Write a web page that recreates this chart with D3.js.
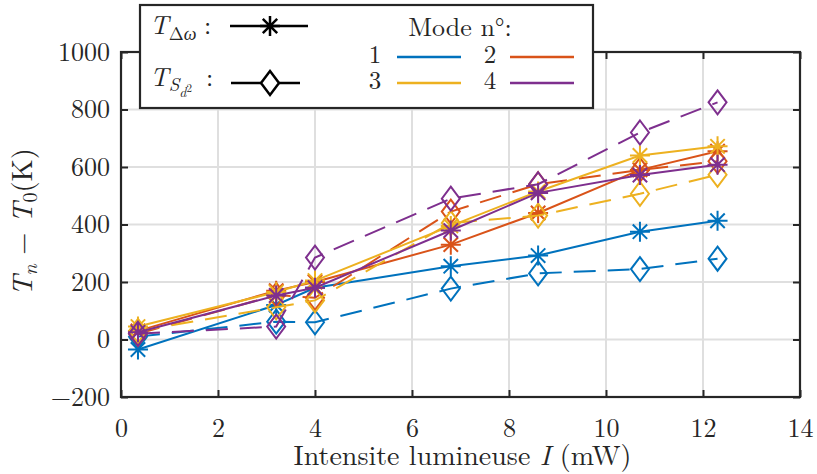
<!DOCTYPE html>
<html><head><meta charset="utf-8">
<script src="https://cdn.jsdelivr.net/npm/d3@7"></script>
<style>body{margin:0;background:#fff} svg{display:block}</style>
</head><body>
<script>
// ---- data ----
const intensity = [0.35, 3.2, 4.0, 6.8, 8.6, 10.7, 12.3];
const modes = ["1", "2", "3", "4"];
const modeColors = ["#0072BD", "#D95319", "#EDB120", "#7E2F8E"];
// T_Δω (stars, solid lines)
const starMode1 = [-35, 120, 180, 255, 292, 375, 413];
const starMode2 = [30, 170, 200, 330, 440, 590, 655];
const starMode3 = [45, 165, 205, 395, 515, 640, 672];
const starMode4 = [25, 153, 180, 379, 510, 572, 608];
// T_S (diamonds, dashed lines)
const diamMode1 = [10, 62, 60, 177, 230, 245, 281];
const diamMode2 = [20, 155, 145, 445, 540, 590, 620];
const diamMode3 = [30, 112, 136, 405, 431, 507, 573];
const diamMode4 = [20, 45, 285, 490, 540, 720, 825];
const xTicks = [0, 2, 4, 6, 8, 10, 12, 14];
const yTicks = [-200, 0, 200, 400, 600, 800, 1000];

const starSeries = [starMode1, starMode2, starMode3, starMode4];
const diamSeries = [diamMode1, diamMode2, diamMode3, diamMode4];

// ---- layout ----
const FONT = "'Latin Modern Roman'";
const W = 817, H = 474;
const L = 121, R = 800, T = 52, B = 397;
const svg = d3.select("body").append("svg").attr("width", W).attr("height", H);
const x = d3.scaleLinear().domain([0, 14]).range([L, R]);
const y = d3.scaleLinear().domain([-200, 1000]).range([B, T]);
const axisColor = "#262626";

function txt(sel) { return sel.attr("font-family", FONT).attr("fill", axisColor); }

// grid
const grid = svg.append("g");
grid.selectAll(".gx").data(xTicks).join("line")
  .attr("x1", d => x(d)).attr("x2", d => x(d)).attr("y1", T).attr("y2", B)
  .attr("stroke", "#dfdfdf").attr("stroke-width", 2);
grid.selectAll(".gy").data(yTicks).join("line")
  .attr("y1", d => y(d)).attr("y2", d => y(d)).attr("x1", L).attr("x2", R)
  .attr("stroke", "#dfdfdf").attr("stroke-width", 2);

// axes
function styleAxis(g) {
  g.attr("font-family", FONT).attr("font-size", 26);
  g.select(".domain").remove();
  g.selectAll(".tick line").attr("stroke", axisColor).attr("stroke-width", 2);
  g.selectAll(".tick text").attr("font-size", 26).call(txt);
}
svg.append("g").attr("transform", `translate(0,${B})`)
  .call(d3.axisBottom(x).tickValues(xTicks).tickSize(-7).tickPadding(22).tickFormat(d3.format("d")))
  .call(styleAxis);
svg.append("g").attr("transform", `translate(0,${T})`)
  .call(d3.axisTop(x).tickValues(xTicks).tickSize(-7).tickFormat(""))
  .call(styleAxis);
svg.append("g").attr("transform", `translate(${L},0)`)
  .call(d3.axisLeft(y).tickValues(yTicks).tickSize(-7).tickPadding(11).tickFormat(d => d < 0 ? "\u2212" + Math.abs(d) : d))
  .call(styleAxis);
svg.append("g").attr("transform", `translate(${R},0)`)
  .call(d3.axisRight(y).tickValues(yTicks).tickSize(-7).tickFormat(""))
  .call(styleAxis);

svg.append("rect").attr("x", L).attr("y", T).attr("width", R - L).attr("height", B - T)
  .attr("fill", "none").attr("stroke", axisColor).attr("stroke-width", 2.2);

// marker shapes
const sr = 10, sd = 7.2;
const starPath = `M0,${-sr}V${sr}M${-sr},0H${sr}M${-sd},${-sd}L${sd},${sd}M${-sd},${sd}L${sd},${-sd}`;
const dw = 9, dh = 12;
const diamPath = `M0,${-dh}L${dw},0L0,${dh}L${-dw},0Z`;

const line = d3.line().x(d => x(d[0])).y(d => y(d[1]));
const plot = svg.append("g");
modes.forEach((m, i) => {
  const c = modeColors[i];
  const sPts = intensity.map((v, k) => [v, starSeries[i][k]]);
  const dPts = intensity.map((v, k) => [v, diamSeries[i][k]]);
  plot.append("path").attr("d", line(sPts)).attr("fill", "none").attr("stroke", c).attr("stroke-width", 2);
  plot.selectAll(null).data(sPts).join("path").attr("d", starPath)
    .attr("transform", d => `translate(${x(d[0])},${y(d[1])})`)
    .attr("fill", "none").attr("stroke", c).attr("stroke-width", 2);
  plot.append("path").attr("d", line(dPts)).attr("fill", "none").attr("stroke", c).attr("stroke-width", 2)
    .attr("stroke-dasharray", "22,12");
  plot.selectAll(null).data(dPts).join("path").attr("d", diamPath)
    .attr("transform", d => `translate(${x(d[0])},${y(d[1])})`)
    .attr("fill", "none").attr("stroke", c).attr("stroke-width", 2);
});

// axis labels
const xl = svg.append("text").attr("x", (L + R) / 2 + 2).attr("y", 465).attr("text-anchor", "middle").attr("font-size", 28).call(txt);
xl.append("tspan").text("Intensite lumineuse ");
xl.append("tspan").attr("font-style", "italic").text("I");
xl.append("tspan").text(" (mW)");

const yl = svg.append("text").attr("transform", "translate(32,222) rotate(-90)").attr("text-anchor", "middle").attr("font-size", 28.6).call(txt);
yl.append("tspan").attr("font-style", "italic").text("T");
yl.append("tspan").attr("font-style", "italic").attr("font-size", 20).attr("dy", 5).text("n");
yl.append("tspan").attr("dy", -5).text(" \u2212 ");
yl.append("tspan").attr("font-style", "italic").text("T");
yl.append("tspan").attr("font-size", 20).attr("dy", 5).text("0");
yl.append("tspan").attr("dy", -5).text("(K)");

// legend
const lg = svg.append("g");
lg.append("rect").attr("x", 140).attr("y", 5).attr("width", 453).attr("height", 103)
  .attr("fill", "#fff").attr("stroke", axisColor).attr("stroke-width", 2.2);
const t1 = lg.append("text").attr("x", 150).attr("y", 34).attr("font-size", 26).call(txt);
t1.append("tspan").attr("font-style", "italic").text("T");
t1.append("tspan").attr("font-size", 18).attr("dy", 6).text("\u0394");
t1.append("tspan").attr("font-size", 18).attr("font-style", "italic").text("\u03c9");
lg.append("text").attr("x", 204).attr("y", 34).attr("font-size", 26).call(txt).text(":");
lg.append("line").attr("x1", 230).attr("x2", 308).attr("y1", 26).attr("y2", 26).attr("stroke", "#000").attr("stroke-width", 2.5);
lg.append("path").attr("d", starPath).attr("transform", "translate(270,26)").attr("fill", "none").attr("stroke", "#000").attr("stroke-width", 2.5);

const t2 = lg.append("text").attr("x", 150).attr("y", 86).attr("font-size", 26).call(txt);
t2.append("tspan").attr("font-style", "italic").text("T");
t2.append("tspan").attr("font-size", 19).attr("font-style", "italic").attr("dy", 5).text("S");
t2.append("tspan").attr("font-size", 14).attr("font-style", "italic").attr("dy", 6).text("d");
t2.append("tspan").attr("font-size", 11).attr("dy", -5).text("2");
lg.append("text").attr("x", 206).attr("y", 86).attr("font-size", 26).call(txt).text(":");
lg.append("line").attr("x1", 231).attr("x2", 300).attr("y1", 83).attr("y2", 83).attr("stroke", "#000").attr("stroke-width", 2.5);
lg.append("path").attr("d", diamPath).attr("transform", "translate(270,83)").attr("fill", "#fff").attr("stroke", "#000").attr("stroke-width", 2.5);

lg.append("text").attr("x", 460).attr("y", 36).attr("text-anchor", "middle").attr("font-size", 26).call(txt).text("Mode n\u00b0:");
const legPos = [[375, 63, 397, 57], [490, 63, 510, 57], [375, 89, 397, 83], [490, 89, 510, 83]];
modes.forEach((m, i) => {
  const p = legPos[i];
  lg.append("text").attr("x", p[0]).attr("y", p[1]).attr("text-anchor", "middle").attr("font-size", 25).call(txt).text(m);
  lg.append("line").attr("x1", p[2]).attr("x2", p[2] + 64).attr("y1", p[3]).attr("y2", p[3])
    .attr("stroke", modeColors[i]).attr("stroke-width", 2.5);
});
</script>
</body></html>
